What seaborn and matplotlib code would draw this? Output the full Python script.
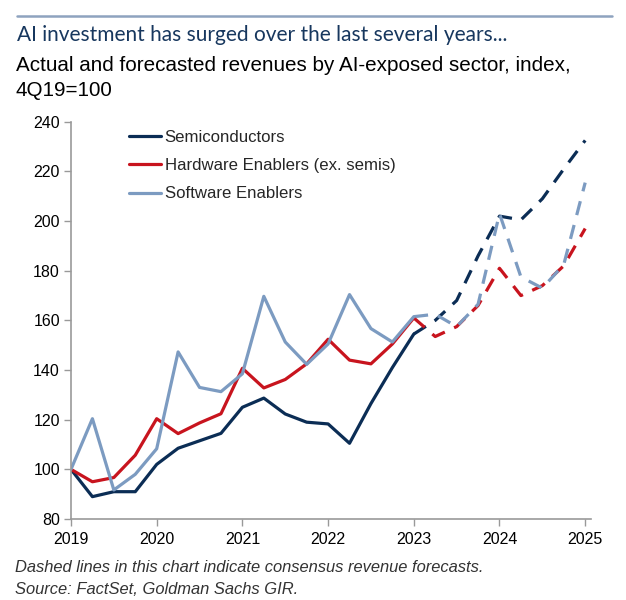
import numpy as np
import pandas as pd
import seaborn as sns
import matplotlib.pyplot as plt
from matplotlib.lines import Line2D

# Quarterly index, 4Q19 = 100; actual through 2023, forecasts after
quarters = np.arange(25) / 4 + 2019
split = 16

semis = [100, 89, 91, 91, 102, 108.5, 111.5, 114.5, 125, 128.7, 122.3, 119, 118.3,
         110.5, 126.5, 141, 154.5,
         160, 168, 186, 202, 200.5, 209, 221, 232.5]
hardware = [100, 95, 96.7, 105.7, 120.4, 114.4, 118.7, 122.4, 140.7, 132.8, 136.2, 142.5, 152.4,
            144, 142.5, 150.5, 161,
            153.5, 157.5, 166, 181, 170, 174, 182, 197]
software = [100, 120.4, 91.7, 98, 108.3, 147.3, 133, 131.3, 138.5, 169.7, 151.3, 142.3, 150.5,
            170.4, 156.7, 151.3, 161.5,
            162.5, 157.5, 166.5, 203, 177.5, 173, 182.5, 215.5]

sectors = ["Semiconductors", "Hardware Enablers (ex. semis)", "Software Enablers"]
colors = ["#0b2d55", "#c8141e", "#7c9bc1"]

rows = []
for name, vals in zip(sectors, [semis, hardware, software]):
    for i, (q, v) in enumerate(zip(quarters, vals)):
        if i <= split:
            rows.append((q, v, name, "actual"))
        if i >= split:
            rows.append((q, v, name, "forecast"))
df = pd.DataFrame(rows, columns=["quarter", "index", "sector", "kind"])

sns.set_style("ticks")
plt.rcParams["font.family"] = ["Liberation Sans", "DejaVu Sans"]

fig = plt.figure(figsize=(6.26, 6.0), dpi=100)
ax = fig.add_axes([0.1134, 0.135, 0.831, 0.662])

# forecasts first so actual lines sit on top
for name, col in zip(sectors, colors):
    sub = df[(df.sector == name) & (df.kind == "forecast")]
    sns.lineplot(data=sub, x="quarter", y="index", color=col, lw=2.3, ax=ax,
                 dashes=(4.5, 3.2), legend=False)
for name, col in zip(sectors, colors):
    sub = df[(df.sector == name) & (df.kind == "actual")]
    sns.lineplot(data=sub, x="quarter", y="index", color=col, lw=2.3, ax=ax, legend=False)

ax.set_xlim(2019, 2025.07)
ax.set_ylim(80, 240)
ax.set_xticks(range(2019, 2026))
ax.set_yticks(range(80, 241, 20))
ax.set_xlabel("")
ax.set_ylabel("")
ax.tick_params(labelsize=11.5, length=5, width=1, color="#999999", labelcolor="black", pad=3)
ax.tick_params(axis="x", pad=4.5)
for s in ["top", "right"]:
    ax.spines[s].set_visible(False)
for s in ["left", "bottom"]:
    ax.spines[s].set_color("#999999")
    ax.spines[s].set_linewidth(1.2)

handles = [Line2D([], [], color=c, lw=2.3) for c in colors]
ax.legend(handles, sectors, loc="upper left", bbox_to_anchor=(0.083, 1.017), frameon=False,
          fontsize=12.1, handlelength=1.9, handletextpad=0.2, labelspacing=0.78)

# header
fig.add_artist(Line2D([0.027, 0.978], [1 - 16 / 600, 1 - 16 / 600], color="#8ea3bf", lw=1.8))
fig.text(0.027, 1 - 41 / 600, "AI investment has surged over the last several years...",
         fontsize=15, color="#17375e", family="Lato")
fig.text(0.025, 1 - 71 / 600, "Actual and forecasted revenues by AI-exposed sector, index,",
         fontsize=14.9, color="black")
fig.text(0.025, 1 - 96 / 600, "4Q19=100", fontsize=14.9, color="black")

fig.text(0.024, 1 - 572 / 600, "Dashed lines in this chart indicate consensus revenue forecasts.",
         fontsize=11.9, style="italic", color="#333333")
fig.text(0.024, 1 - 594 / 600, "Source: FactSet, Goldman Sachs GIR.",
         fontsize=11.9, style="italic", color="#333333")

fig.savefig("out.png", dpi=100)
